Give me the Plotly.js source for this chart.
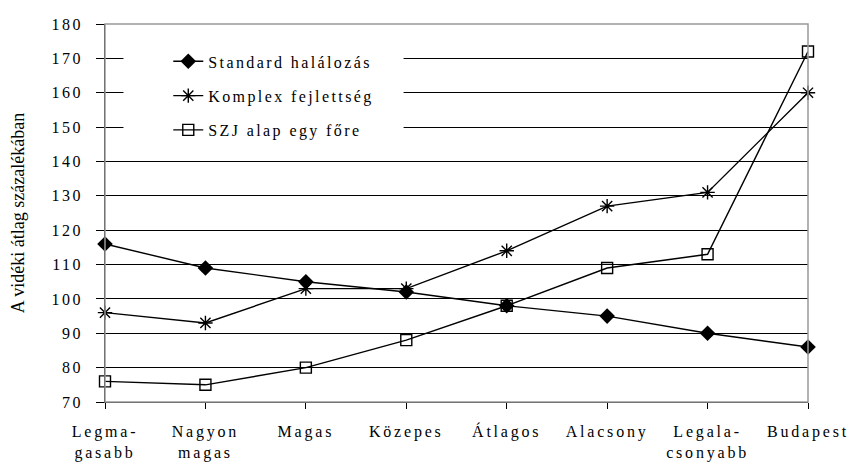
<!DOCTYPE html>
<html>
<head>
<meta charset="utf-8">
<script src="https://cdn.plot.ly/plotly-3.0.1.min.js"></script>
<style>
  html, body { margin: 0; padding: 0; background: #fff; }
  #chart { width: 856px; height: 463px; }
  .ytick text, .legendtext { letter-spacing: 2.4px; }
  .xtick text { letter-spacing: 2.8px; }
</style>
</head>
<body>
<div id="chart"></div>
<script>
const categories = ["Legma-<br>gasabb", "Nagyon<br>magas", "Magas", "Közepes", "Átlagos", "Alacsony", "Legala-<br>csonyabb", "Budapest"];
const standardHalalozas = [116, 109, 105, 102, 98, 95, 90, 86];
const komplexFejlettseg = [96, 93, 103, 103, 114, 127, 131, 160];
const szjAlapEgyFore = [76, 75, 80, 88, 98, 109, 113, 172];
const yTicks = [70, 80, 90, 100, 110, 120, 130, 140, 150, 160, 170, 180];

const xIdx = categories.map((_, i) => i);
const font = '"Liberation Serif", "Times New Roman", serif';

const traces = [
  { name: "Standard halálozás", y: standardHalalozas, marker: { symbol: "diamond", size: 12, color: "#000" }, legendgroup: "a" },
  { name: "Komplex fejlettség", y: komplexFejlettseg, marker: { symbol: "asterisk-open", size: 12, color: "#000", line: { width: 1.4, color: "#000" } }, legendgroup: "b" },
  { name: "SZJ alap egy főre", y: szjAlapEgyFore, marker: { symbol: "square-open", size: 11, color: "#000", line: { width: 1.4, color: "#000" } }, legendgroup: "c" }
].map(t => Object.assign({
  x: xIdx, type: "scatter", mode: "lines+markers",
  line: { color: "#000", width: 1.4 }, cliponaxis: false
}, t));

const layout = {
  width: 856, height: 463,
  margin: { l: 105, r: 48, t: 24, b: 61 },
  paper_bgcolor: "#fff", plot_bgcolor: "#fff",
  font: { family: font, size: 16, color: "#000" },
  showlegend: true,
  legend: {
    x: 0.09, y: 0.946, xanchor: "left", yanchor: "top",
    bgcolor: "#fff", borderwidth: 0,
    traceorder: "grouped", tracegroupgap: 10.5,
    font: { family: font, size: 16, color: "#000" }
  },
  xaxis: {
    range: [0, 7], tickmode: "array", tickvals: xIdx, ticktext: categories,
    showgrid: false, zeroline: false,
    showline: true, linecolor: "#000", linewidth: 1,
    ticks: "outside", ticklen: 6, tickcolor: "#000", tickwidth: 1,
    ticklabelstandoff: 9,
    tickfont: { family: font, size: 16, color: "#000" }
  },
  yaxis: {
    range: [70, 180], tickmode: "array", tickvals: yTicks,
    showgrid: true, gridcolor: "#000", gridwidth: 1,
    zeroline: false,
    showline: true, linecolor: "#000", linewidth: 1,
    ticks: "outside", ticklen: 8, tickcolor: "#000", tickwidth: 1,
    ticklabelstandoff: 10,
    tickfont: { family: font, size: 16, color: "#000" },
    title: { text: "A vidéki átlag százalékában", font: { family: font, size: 18, color: "#000" }, standoff: 22 }
  },
  shapes: [
    { type: "rect", xref: "paper", yref: "paper", x0: 0.027, x1: 0.424, y0: 0.685, y1: 0.955, fillcolor: "#ffffff", opacity: 1, line: { color: "#ffffff", width: 1 }, layer: "above" },
    { type: "rect", xref: "paper", yref: "paper", x0: 0, x1: 1, y0: 0, y1: 1, line: { color: "#999", width: 1.5 }, layer: "above" }
  ]
};

Plotly.newPlot("chart", traces, layout, { displayModeBar: false, staticPlot: true });
</script>
</body>
</html>
